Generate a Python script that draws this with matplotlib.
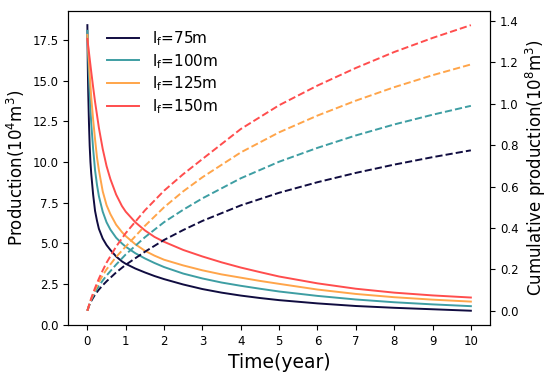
import matplotlib
matplotlib.use("Agg")
import matplotlib.pyplot as plt

# fracture half-length cases
labels = ["l$_\\mathrm{f}$=75m", "l$_\\mathrm{f}$=100m", "l$_\\mathrm{f}$=125m", "l$_\\mathrm{f}$=150m"]
colors = ["#100c40", "#3e9ea3", "#ffa54a", "#ff4d4d"]

# production rate (10^4 m3)
t_rate = [0, 0.01, 0.02, 0.04, 0.06, 0.08, 0.1, 0.15, 0.2, 0.25, 0.3, 0.4, 0.5, 0.6, 0.75, 0.9,
          1.0, 1.25, 1.5, 1.75, 2, 2.5, 3, 3.5, 4, 4.5, 5, 6, 7, 8, 9, 10]
rate_75 = [18.4, 16.0, 14.5, 12.5, 11.0, 10.0, 9.3, 8.0, 7.0, 6.4, 5.9, 5.3, 4.9, 4.6, 4.2, 3.9,
           3.75, 3.46, 3.22, 3.0, 2.81, 2.48, 2.2, 1.98, 1.8, 1.65, 1.52, 1.32, 1.16, 1.05, 0.96, 0.87]
rate_100 = [18.05, 17.3, 16.6, 15.3, 14.2, 13.2, 12.4, 10.8, 9.5, 8.6, 7.9, 6.95, 6.3, 5.85, 5.35, 5.0,
            4.8, 4.4, 4.08, 3.8, 3.55, 3.15, 2.85, 2.6, 2.4, 2.22, 2.05, 1.78, 1.56, 1.39, 1.26, 1.15]
rate_125 = [17.8, 17.4, 17.0, 16.2, 15.4, 14.7, 14.0, 12.6, 11.4, 10.3, 9.5, 8.2, 7.35, 6.8, 6.15, 5.7,
            5.45, 4.95, 4.55, 4.25, 4.0, 3.65, 3.35, 3.1, 2.9, 2.7, 2.52, 2.17, 1.9, 1.7, 1.55, 1.43]
rate_150 = [17.55, 17.35, 17.15, 16.75, 16.35, 15.95, 15.55, 14.6, 13.7, 12.9, 12.1, 10.8, 9.75, 8.95, 8.0, 7.3,
            6.95, 6.3, 5.8, 5.4, 5.1, 4.6, 4.2, 3.84, 3.52, 3.24, 2.97, 2.55, 2.22, 1.98, 1.81, 1.68]

# cumulative production (10^8 m3)
t_cum = [0, 0.05, 0.1, 0.2, 0.3, 0.4, 0.5, 0.75, 1, 1.5, 2, 2.5, 3, 4, 5, 6, 7, 8, 9, 10]
cum_75 = [0, 0.027, 0.047, 0.078, 0.102, 0.123, 0.142, 0.185, 0.222, 0.285, 0.342, 0.39, 0.434,
          0.509, 0.57, 0.621, 0.666, 0.706, 0.742, 0.775]
cum_100 = [0, 0.029, 0.052, 0.09, 0.12, 0.146, 0.17, 0.223, 0.272, 0.355, 0.428, 0.488, 0.543,
           0.64, 0.72, 0.787, 0.847, 0.9, 0.947, 0.99]
cum_125 = [0, 0.03, 0.057, 0.1, 0.138, 0.171, 0.2, 0.26, 0.31, 0.41, 0.5, 0.577, 0.645,
           0.765, 0.862, 0.943, 1.015, 1.08, 1.138, 1.19]
cum_150 = [0, 0.031, 0.06, 0.11, 0.155, 0.195, 0.232, 0.31, 0.375, 0.485, 0.58, 0.66, 0.733,
           0.878, 0.993, 1.088, 1.173, 1.25, 1.318, 1.38]

rates = [rate_75, rate_100, rate_125, rate_150]
cums = [cum_75, cum_100, cum_125, cum_150]

fig = plt.figure(figsize=(5.5, 3.74), dpi=100)
ax = fig.add_axes([0.124, 0.131, 0.767, 0.84])
ax2 = ax.twinx()

for lab, c, r, q in zip(labels, colors, rates, cums):
    ax.plot(t_rate, r, color=c, lw=1.4, label=lab)
    ax2.plot(t_cum, q, color=c, lw=1.4, ls="--")

ax.set_xticks(range(0, 11))
ax.set_xlabel("Time(year)", fontsize=13.5)
ax.set_ylabel("Production(10$^4$m$^3$)", fontsize=12)
ax2.set_ylabel("Cumulative production(10$^8$m$^3$)", fontsize=12)
ax.tick_params(labelsize=8.5)
ax2.tick_params(labelsize=8.5)
ax.legend(loc="upper left", frameon=False, fontsize=11, bbox_to_anchor=(0.06, 0.985),
          handlelength=2.1, labelspacing=0.25)

fig.savefig("out.png", dpi=100)
